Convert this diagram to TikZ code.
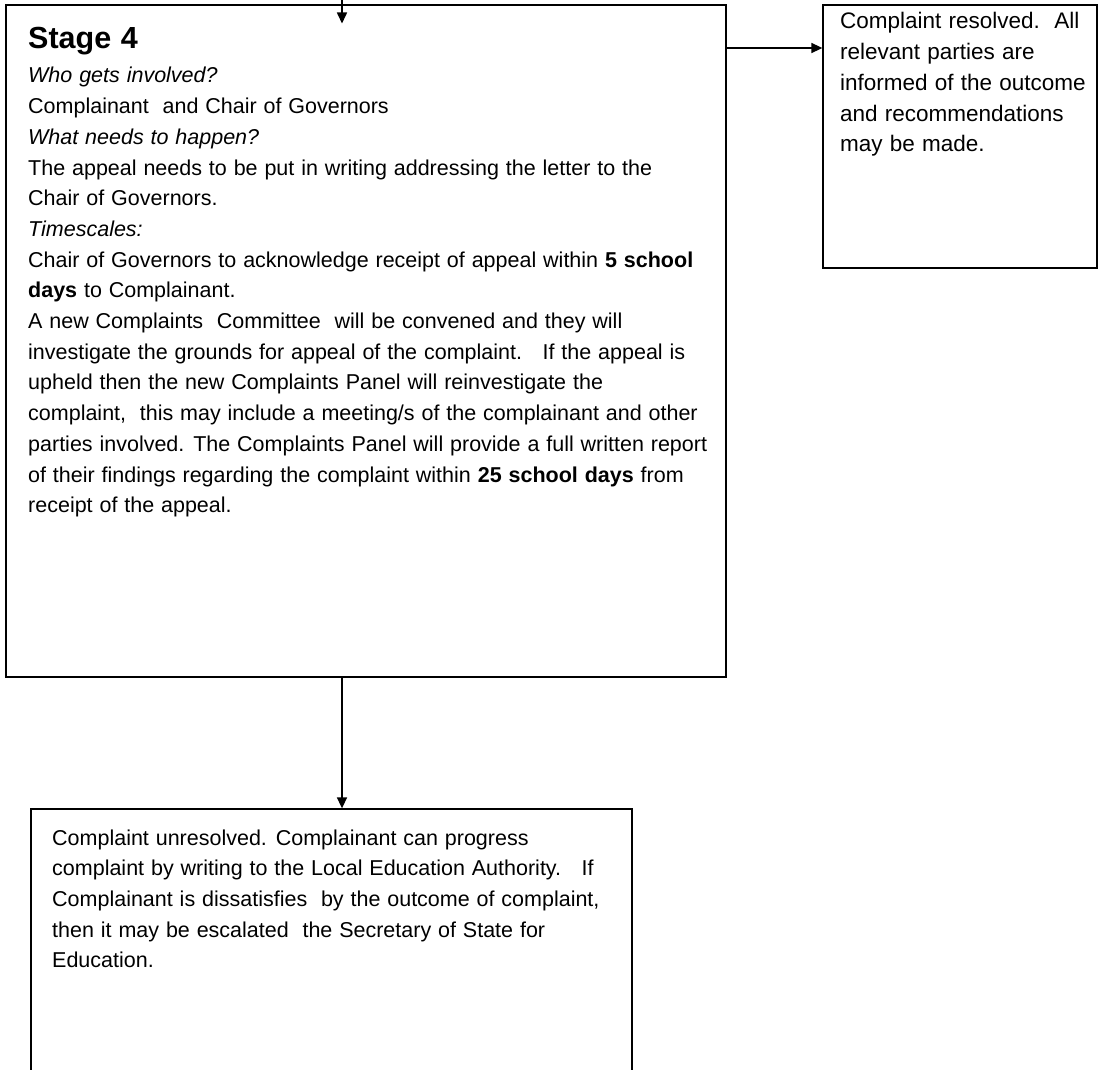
\documentclass[tikz,border=0pt]{standalone}
\usepackage{fontspec}
\setmainfont{Liberation Sans}[WordSpace=1.15]
\usetikzlibrary{arrows.meta}
\newcommand{\txtrows}[1]{\vtop{\baselineskip=30.7pt\lineskiplimit=-100pt\lineskip=0pt\halign{##\hfil\cr#1\crcr}}}
\tikzset{
  panel/.style={draw=black, line width=1.3pt, inner sep=0pt, fill=none},
  conn/.style={draw=black, line width=1.6pt, -{Triangle[length=11pt,width=10pt]}},
  bodytext/.style={inner sep=0pt, anchor=base west, font=\fontsize{21.5}{30.7}\selectfont},
}
\begin{document}
\begin{tikzpicture}[x=1pt,y=-1pt]
\clip (0,0) rectangle (1101,1070);
\fill[white] (0,0) rectangle (1101,1070);

% boxes
\node[panel, minimum width=720pt, minimum height=672pt] (stage) at (366,341) {};
\node[panel, minimum width=274pt, minimum height=263pt] (resolved) at (960,136.5) {};
\node[panel, minimum width=601pt, minimum height=300pt] (unres) at (331.5,959) {};

% texts
\node[inner sep=0pt, anchor=base west, font=\fontsize{30.5}{36}\selectfont\bfseries] (title) at (28,49) {Stage 4};
\node[bodytext] (body) at (28,83) {\txtrows{%
\textit{Who gets involved?}\cr
Complainant\ \ and Chair of Governors\cr
\textit{What needs to happen?}\cr
The appeal needs to be put in writing addressing the letter to the\cr
Chair of Governors.\cr
\textit{Timescales:}\cr
Chair of Governors to acknowledge receipt of appeal within \textbf{5 school}\cr
\textbf{days} to Complainant.\cr
A new Complaints\ \ Committee\ \ will be convened and they will\cr
investigate the grounds for appeal of the complaint.\ \ \ If the appeal is\cr
upheld then the new Complaints Panel will reinvestigate the\cr
complaint,\ \ this may include a meeting/s of the complainant and other\cr
parties involved. The Complaints Panel will provide a full written report\cr
of their findings regarding the complaint within \textbf{25 school days} from\cr
receipt of the appeal.}};

\node[bodytext, font=\fontsize{22.5}{30}\selectfont] (resolvedtxt) at (840,29) {\txtrows{%
Complaint resolved.\ \ All\cr
relevant parties are\cr
informed of the outcome\cr
and recommendations\cr
may be made.}};

\node[bodytext] (unrestxt) at (52,845) {\txtrows{%
Complaint unresolved. Complainant can progress\cr
complaint by writing to the Local Education Authority.\ \ \ If\cr
Complainant is dissatisfies\ \ by the outcome of complaint,\cr
then it may be escalated\ \ the Secretary of State for\cr
Education.}};

% connectors
\coordinate (colx) at (342,0);
\coordinate (rowy) at (0,48);
\coordinate (incoming) at (342,-4);
\coordinate (intip) at (342,23.5);
\draw[conn] (incoming) -- (intip);
\draw[conn] (stage.east |- rowy) -- (resolved.west |- rowy);
\draw[conn] (stage.south -| colx) -- (unres.north -| colx);
\end{tikzpicture}
\end{document}
